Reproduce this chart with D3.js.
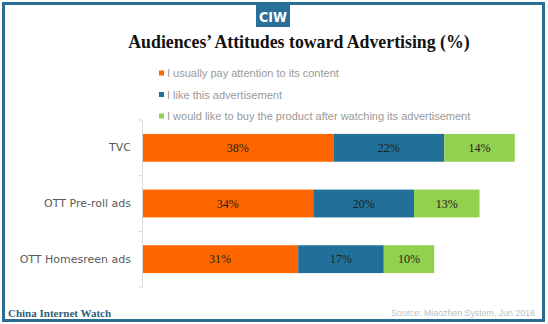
<!DOCTYPE html>
<html>
<head>
  <meta charset="utf-8">
  <script src="https://d3js.org/d3.v7.min.js"></script>
  <style>
    body { margin: 0; background: #fff; }
    svg { display: block; }
  </style>
</head>
<body>
  <svg id="viz"></svg>
  <script>
    // data
    let categories = ["TVC", "OTT Pre-roll ads", "OTT Homesreen ads"];
    let seriesNames = [
      "I usually pay attention to its content",
      "I like this advertisement",
      "I would like to buy the product after watching its advertisement"
    ];
    let payAttention = [38, 34, 31];
    let likeAd = [22, 20, 17];
    let wouldBuy = [14, 13, 10];
    let colors = ["#ff6600", "#21709a", "#92d050"];

    let width = 548, height = 324;
    let svg = d3.select("#viz").attr("width", width).attr("height", height);

    // frame
    svg.append("rect")
      .attr("x", 3.5).attr("y", 3.5)
      .attr("width", 540).attr("height", 317)
      .attr("fill", "#fff")
      .attr("stroke", "#2b6d93")
      .attr("stroke-width", 3);

    // CIW logo
    svg.append("rect")
      .attr("x", 256).attr("y", 5)
      .attr("width", 34).attr("height", 22)
      .attr("fill", "#2a6f98");
    svg.append("text")
      .attr("x", 273).attr("y", 22)
      .attr("text-anchor", "middle")
      .attr("fill", "#fff")
      .attr("font-family", "'DejaVu Sans Condensed', 'DejaVu Sans'")
      .attr("font-weight", "bold")
      .attr("font-size", 14)
      .text("CIW");

    // title
    svg.append("text")
      .attr("x", 299).attr("y", 48)
      .attr("text-anchor", "middle")
      .attr("fill", "#111")
      .attr("font-family", "'Liberation Serif', Georgia, serif")
      .attr("font-weight", "bold")
      .attr("font-size", 17.8)
      .text("Audiences’ Attitudes toward Advertising (%)");

    // legend
    let legend = svg.append("g");
    seriesNames.forEach((name, i) => {
      let y = 73 + i * 21.5;
      legend.append("rect")
        .attr("x", 159).attr("y", y - 2.5)
        .attr("width", 5).attr("height", 5)
        .attr("fill", colors[i]);
      legend.append("text")
        .attr("x", 167).attr("y", y + 4)
        .attr("fill", "#999")
        .attr("font-family", "'Liberation Sans', Arial, sans-serif")
        .attr("font-size", 11)
        .text(name);
    });

    // scales
    let x = d3.scaleLinear().domain([0, 80]).range([142, 545]);
    let y = d3.scaleBand().domain(categories).range([120, 287]).paddingInner(0.5).paddingOuter(0.25);

    // stacked rows
    let rows = categories.map((c, i) => ({
      cat: c,
      values: [payAttention[i], likeAd[i], wouldBuy[i]]
    }));
    let stack = d3.stack().keys([0, 1, 2]).value((d, k) => d.values[k]);
    let layers = stack(rows);

    layers.forEach((layer, k) => {
      let g = svg.append("g");
      g.selectAll("rect")
        .data(layer)
        .enter()
        .append("rect")
        .attr("x", d => x(d[0]))
        .attr("y", d => y(d.data.cat))
        .attr("width", d => x(d[1]) - x(d[0]))
        .attr("height", y.bandwidth())
        .attr("fill", colors[k]);
      g.selectAll("text")
        .data(layer)
        .enter()
        .append("text")
        .attr("x", d => (x(d[0]) + x(d[1])) / 2)
        .attr("y", d => y(d.data.cat) + y.bandwidth() / 2 + 4)
        .attr("text-anchor", "middle")
        .attr("fill", "#1e1e1e")
        .attr("font-family", "'Liberation Serif', 'Times New Roman', serif")
        .attr("font-size", 12)
        .text(d => (d[1] - d[0]) + "%");
    });

    // category axis
    let axis = svg.append("g")
      .attr("transform", "translate(142,0)")
      .call(d3.axisLeft(y).tickSize(0).tickPadding(11));
    axis.select(".domain").attr("stroke", "#d9d9d9");
    axis.selectAll("text")
      .attr("fill", "#595959")
      .attr("font-family", "'DejaVu Sans', sans-serif")
      .attr("font-size", 11);

    // band boundary ticks
    let bounds = d3.range(categories.length + 1).map(i => 120 + i * (167 / categories.length));
    svg.append("g").selectAll("line")
      .data(bounds)
      .enter()
      .append("line")
      .attr("x1", 138).attr("x2", 142)
      .attr("y1", d => d).attr("y2", d => d)
      .attr("stroke", "#d9d9d9");

    // footer
    svg.append("text")
      .attr("x", 8).attr("y", 317)
      .attr("fill", "#2c5f80")
      .attr("font-family", "'Liberation Serif', Georgia, serif")
      .attr("font-weight", "bold")
      .attr("font-size", 11)
      .text("China Internet Watch");
    svg.append("text")
      .attr("x", 535).attr("y", 316)
      .attr("text-anchor", "end")
      .attr("fill", "#c0c0c0")
      .attr("font-family", "'Liberation Sans', Arial, sans-serif")
      .attr("font-size", 8.8)
      .text("Source: Miaozhen System, Jun 2016");
  </script>
</body>
</html>
